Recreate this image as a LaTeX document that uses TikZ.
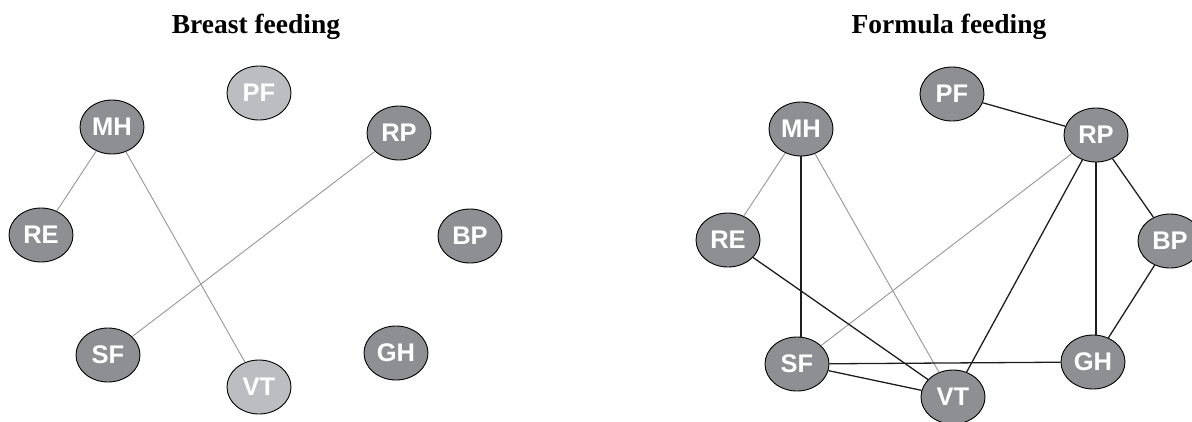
\documentclass[tikz,border=0pt]{standalone}
\usepackage{fontspec}
\setmainfont{Liberation Serif}
\setsansfont{Liberation Sans}
\usetikzlibrary{shapes.geometric}
\definecolor{nodedark}{HTML}{8E8F92}
\definecolor{nodelight}{HTML}{BCBDC0}
\definecolor{weakedge}{HTML}{969696}
\definecolor{strongedge}{HTML}{1E1E1E}
\tikzset{
  var/.style={ellipse, draw=black, line width=0.9pt, fill=nodedark,
    minimum width=64pt, minimum height=54pt, inner sep=0pt,
    text=white, font=\sffamily\bfseries\fontsize{25.5}{26}\selectfont},
  varlight/.style={var, fill=nodelight},
  weak/.style={draw=weakedge, line width=0.9pt},
  strong/.style={draw=strongedge, line width=1.3pt},
  paneltitle/.style={font=\rmfamily\bfseries\fontsize{27.5}{29}\selectfont}
}
\begin{document}
\begin{tikzpicture}[x=1pt, y=-1pt]
\useasboundingbox (0,0) rectangle (1192,421);

% ---- breast feeding network ----
\node[paneltitle] (tB) at (256,27) {Breast feeding};
\node[varlight] (bPF) at (259,93)  {PF};
\node[var]      (bMH) at (112,127) {MH};
\node[var]      (bRP) at (399,133) {RP};
\node[var]      (bRE) at (41,235)  {RE};
\node[var]      (bBP) at (470,236) {BP};
\node[var]      (bSF) at (108,355) {SF};
\node[var]      (bGH) at (396,353) {GH};
\node[varlight] (bVT) at (259,387) {VT};

\draw[weak] (bMH) -- (bRE);
\draw[weak] (bMH) -- (bVT);
\draw[weak] (bRP) -- (bSF);

% ---- formula feeding network ----
\node[paneltitle] (tF) at (949,27) {Formula feeding};
\node[var] (fPF) at (952,94)  {PF};
\node[var] (fMH) at (801,129) {MH};
\node[var] (fRP) at (1096,135) {RP};
\node[var] (fRE) at (728,240) {RE};
\node[var] (fBP) at (1170,241) {BP};
\node[var] (fSF) at (797,364) {SF};
\node[var] (fGH) at (1093,362) {GH};
\node[var] (fVT) at (953,397) {VT};

\draw[weak] (fMH) -- (fRE);
\draw[weak] (fMH) -- (fVT);
\draw[weak] (fRP) -- (fSF);
\draw[strong] (fMH) -- (fMH |- fSF.north);
\draw[strong] (fRE) -- (fVT);
\draw[strong] (fSF) -- (fGH);
\draw[strong] (fSF) -- (fVT);
\draw[strong] (fPF) -- (fRP);
\draw[strong] (fRP) -- (fVT);
\draw[strong] (fRP) -- (fRP |- fGH.north);
\draw[strong] (fRP) -- (fBP);
\draw[strong] (fBP) -- (fGH);
\end{tikzpicture}
\end{document}
